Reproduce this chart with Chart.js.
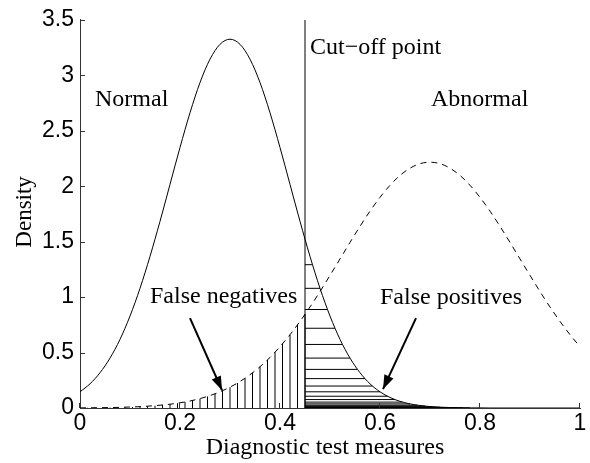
<!DOCTYPE html>
<html>
<head>
<meta charset="utf-8">
<script src="https://cdn.jsdelivr.net/npm/chart.js@4/dist/chart.umd.min.js"></script>
<style>body{margin:0;background:#fff}</style>
</head>
<body>
<canvas id="densityChart" width="590" height="463"></canvas>
<script>
// curves sampled every 0.02
var xGrid = [0, 0.02, 0.04, 0.06, 0.08, 0.10, 0.12, 0.14, 0.16, 0.18,
  0.20, 0.22, 0.24, 0.26, 0.28, 0.30, 0.32, 0.34, 0.36, 0.38,
  0.40, 0.42, 0.44, 0.46, 0.48, 0.50, 0.52, 0.54, 0.56, 0.58,
  0.60, 0.62, 0.64, 0.66, 0.68, 0.70, 0.72, 0.74, 0.76, 0.78,
  0.80, 0.82, 0.84, 0.86, 0.88, 0.90, 0.92, 0.94, 0.96, 0.98, 1.00];
var normalDensity = [0.146, 0.218, 0.318, 0.450, 0.619, 0.829, 1.079, 1.367, 1.683, 2.016,
  2.349, 2.662, 2.934, 3.145, 3.279, 3.325, 3.279, 3.145, 2.934, 2.662,
  2.349, 2.016, 1.683, 1.367, 1.079, 0.829, 0.619, 0.450, 0.318, 0.218,
  0.146, 0.095, 0.060, 0.037, 0.022, 0.013, 0.007, 0.004, 0.002, 0.001,
  0.001, 0, 0, 0, 0, 0, 0, 0, 0, 0, 0];
var abnormalDensity = [0.001, 0.002, 0.003, 0.004, 0.006, 0.009, 0.012, 0.018, 0.025, 0.034,
  0.047, 0.063, 0.085, 0.112, 0.146, 0.188, 0.239, 0.300, 0.372, 0.456,
  0.553, 0.661, 0.781, 0.911, 1.050, 1.196, 1.344, 1.493, 1.638, 1.775,
  1.899, 2.008, 2.097, 2.162, 2.203, 2.216, 2.203, 2.162, 2.097, 2.008,
  1.899, 1.775, 1.638, 1.493, 1.344, 1.196, 1.050, 0.911, 0.781, 0.661, 0.553];

var cutoff = 0.45;

// false negatives: vertical hatch under the dashed curve
var negHatchX = [0, 0.015, 0.03, 0.045, 0.06, 0.075, 0.09, 0.105, 0.12, 0.135,
  0.15, 0.165, 0.18, 0.195, 0.21, 0.225, 0.24, 0.255, 0.27, 0.285,
  0.30, 0.315, 0.33, 0.345, 0.36, 0.375, 0.39, 0.405, 0.42, 0.435, 0.45];
var negHatchY = [0.001, 0.002, 0.002, 0.003, 0.004, 0.005, 0.007, 0.009, 0.012, 0.016,
  0.021, 0.027, 0.034, 0.043, 0.055, 0.068, 0.085, 0.104, 0.128, 0.155,
  0.188, 0.225, 0.268, 0.317, 0.372, 0.434, 0.503, 0.579, 0.661, 0.750, 0.845];

// false positives: horizontal hatch under the solid curve
var posHatchX = [0.45, 0.465, 0.48, 0.495, 0.51, 0.525, 0.54, 0.555, 0.57, 0.585,
  0.60, 0.615, 0.63, 0.645, 0.66, 0.675, 0.69, 0.705, 0.72, 0.735, 0.75, 0.765, 0.78];
var posHatchY = [1.522, 1.292, 1.079, 0.888, 0.719, 0.573, 0.450, 0.348, 0.265, 0.198,
  0.146, 0.106, 0.076, 0.053, 0.037, 0.025, 0.017, 0.011, 0.007, 0.005, 0.003, 0.002, 0.001];

var xTicks = [0, 0.2, 0.4, 0.6, 0.8, 1];
var yTicks = [0, 0.5, 1, 1.5, 2, 2.5, 3, 3.5];

var negArrow = [[0.22, 0.81], [0.284, 0.16]];
var posArrow = [[0.672, 0.81], [0.606, 0.17]];

var notes = [
  {text: 'Normal', x: 0.03, y: 2.78},
  {text: 'Abnormal', x: 0.702, y: 2.78},
  {text: 'Cut\u2212off point', x: 0.46, y: 3.25},
  {text: 'False negatives', x: 0.14, y: 1.0},
  {text: 'False positives', x: 0.6, y: 0.99}
];

function pts(xs, ys) {
  return xs.map(function(x, i) { return {x: x, y: ys[i]}; });
}

var negLines = [];
negHatchX.forEach(function(x, i) {
  negLines.push({x: x, y: 0}, {x: x, y: negHatchY[i]}, {x: x, y: null});
});
var posLines = [];
posHatchX.forEach(function(x, i) {
  posLines.push({x: cutoff, y: posHatchY[i]}, {x: x, y: posHatchY[i]}, {x: x, y: null});
});

function seg(a) {
  return [{x: a[0][0], y: a[0][1]}, {x: a[1][0], y: a[1][1]}];
}

var decor = {
  id: 'decor',
  afterDatasetsDraw: function(chart) {
    var ctx = chart.ctx, xs = chart.scales.x, ys = chart.scales.y;
    var area = chart.chartArea;
    ctx.save();
    ctx.strokeStyle = '#333';
    ctx.lineWidth = 1;
    yTicks.forEach(function(v) {
      var py = Math.round(ys.getPixelForValue(v)) + 0.5;
      ctx.beginPath();
      ctx.moveTo(area.left, py);
      ctx.lineTo(area.left + 5, py);
      ctx.stroke();
    });
    xTicks.forEach(function(v) {
      var px = Math.round(xs.getPixelForValue(v)) - 0.5;
      ctx.beginPath();
      ctx.moveTo(px, area.bottom);
      ctx.lineTo(px, area.bottom - 5);
      ctx.stroke();
    });

    // arrow heads
    ctx.fillStyle = '#000';
    [negArrow, posArrow].forEach(function(a) {
      var x0 = xs.getPixelForValue(a[0][0]), y0 = ys.getPixelForValue(a[0][1]);
      var x1 = xs.getPixelForValue(a[1][0]), y1 = ys.getPixelForValue(a[1][1]);
      var ang = Math.atan2(y1 - y0, x1 - x0);
      var len = 14, half = 5;
      var bx = x1 - len * Math.cos(ang), by = y1 - len * Math.sin(ang);
      ctx.beginPath();
      ctx.moveTo(x1, y1);
      ctx.lineTo(bx + half * Math.sin(ang), by - half * Math.cos(ang));
      ctx.lineTo(bx - half * Math.sin(ang), by + half * Math.cos(ang));
      ctx.closePath();
      ctx.fill();
    });

    // annotations
    ctx.font = '24px "Liberation Serif"';
    ctx.textBaseline = 'middle';
    ctx.textAlign = 'left';
    notes.forEach(function(n) {
      ctx.fillText(n.text, xs.getPixelForValue(n.x), ys.getPixelForValue(n.y));
    });

    // axis titles
    ctx.textAlign = 'center';
    ctx.fillText('Diagnostic test measures', (area.left + area.right) / 2 - 5, area.bottom + 40);
    ctx.translate(25, (area.top + area.bottom) / 2 - 2);
    ctx.rotate(-Math.PI / 2);
    ctx.font = '23px "Liberation Serif"';
    ctx.fillText('Density', 0, 0);
    ctx.restore();
  }
};

function plain(v) { return String(v); }

new Chart(document.getElementById('densityChart').getContext('2d'), {
  type: 'line',
  data: {
    datasets: [
      {data: negLines, borderColor: '#000', borderWidth: 1, tension: 0},
      {data: posLines, borderColor: '#000', borderWidth: 1, tension: 0},
      {data: pts(xGrid, normalDensity), borderColor: '#000', borderWidth: 1, cubicInterpolationMode: 'monotone'},
      {data: pts(xGrid, abnormalDensity), borderColor: '#000', borderWidth: 1, borderDash: [6, 5], cubicInterpolationMode: 'monotone'},
      {data: [{x: cutoff, y: 0}, {x: cutoff, y: 3.5}], borderColor: '#000', borderWidth: 1, tension: 0},
      {data: seg(negArrow), borderColor: '#000', borderWidth: 2, tension: 0},
      {data: seg(posArrow), borderColor: '#000', borderWidth: 2, tension: 0}
    ]
  },
  options: {
    responsive: false,
    devicePixelRatio: 1,
    animation: false,
    spanGaps: false,
    layout: {padding: {left: 0, right: 10, top: 15, bottom: 0}},
    elements: {point: {radius: 0}},
    plugins: {legend: {display: false}, tooltip: {enabled: false}},
    scales: {
      x: {
        type: 'linear', min: 0, max: 1,
        afterFit: function(s) { s.height = 55; },
        afterBuildTicks: function(s) { s.ticks = xTicks.map(function(v) { return {value: v}; }); },
        grid: {display: false, drawTicks: false},
        border: {display: true, color: '#333', width: 1},
        ticks: {padding: 2, color: '#000', font: {family: '"Liberation Sans"', size: 23}, maxRotation: 0, callback: plain}
      },
      y: {
        min: 0, max: 3.5,
        afterFit: function(s) { s.width = 80; },
        afterBuildTicks: function(s) { s.ticks = yTicks.map(function(v) { return {value: v}; }); },
        grid: {display: false, drawTicks: false},
        border: {display: true, color: '#333', width: 1},
        ticks: {padding: 6, color: '#000', font: {family: '"Liberation Sans"', size: 23}, callback: plain}
      }
    }
  },
  plugins: [decor]
});
</script>
</body>
</html>
